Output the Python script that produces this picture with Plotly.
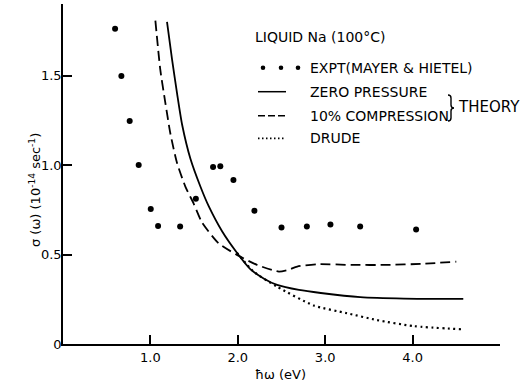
import plotly.graph_objects as go

# ---------------- data ----------------
expt_ev = [0.596, 0.668, 0.763, 0.866, 1.004, 1.088, 1.34, 1.52, 1.717, 1.80, 1.95, 2.19, 2.50, 2.79, 3.06, 3.40, 4.04]
expt_sigma = [1.761, 1.498, 1.246, 1.0, 0.754, 0.66, 0.656, 0.811, 0.989, 0.994, 0.916, 0.744, 0.651, 0.656, 0.668, 0.656, 0.640]

zero_ev = [1.19, 1.248, 1.305, 1.363, 1.458, 1.572, 1.667, 1.82, 1.99, 2.14, 2.3, 2.45, 2.7, 2.95, 3.40, 3.9, 4.58]
zero_sigma = [1.80, 1.589, 1.40, 1.225, 1.035, 0.88, 0.77, 0.63, 0.51, 0.42, 0.365, 0.33, 0.302, 0.285, 0.262, 0.254, 0.252]

comp_ev = [1.057, 1.114, 1.172, 1.229, 1.305, 1.40, 1.495, 1.59, 1.78, 1.99, 2.22, 2.47, 2.58, 2.68, 2.91, 3.3, 3.71, 4.1, 4.5]
comp_sigma = [1.807, 1.53, 1.345, 1.175, 1.011, 0.88, 0.785, 0.68, 0.563, 0.498, 0.442, 0.405, 0.415, 0.433, 0.446, 0.442, 0.442, 0.448, 0.46]

drude_ev = [1.99, 2.18, 2.45, 2.87, 3.25, 3.59, 4.01, 4.57]
drude_sigma = [0.51, 0.405, 0.32, 0.215, 0.172, 0.134, 0.10, 0.082]

x_ticks = [1, 2, 3, 4]
x_ticklabels = ["1.0", "2.0", "3.0", "4.0"]
y_ticks = [0, 0.5, 1.0, 1.5]
y_ticklabels = ["0", "0.5", "1.0", "1.5"]

legend_title = "LIQUID Na (100°C)"
legend_labels = ["EXPT(MAYER &amp; HIETEL)", "ZERO PRESSURE", "10% COMPRESSION", "DRUDE"]
theory_label = "THEORY"

FONT = "DejaVu Sans"
W, H = 531, 385
ML, MR, MT, MB = 63, 31, 4, 41
PW, PH = W - ML - MR, H - MT - MB


def px(xp):
    return (xp - ML) / PW


def py(yp):
    return (H - MB - yp) / PH


fig = go.Figure()
fig.add_trace(go.Scatter(x=zero_ev, y=zero_sigma, mode="lines",
                         line=dict(color="black", width=1.8, shape="spline", smoothing=0.6)))
fig.add_trace(go.Scatter(x=comp_ev, y=comp_sigma, mode="lines",
                         line=dict(color="black", width=1.8, dash="10px,5px", shape="spline", smoothing=0.6)))
fig.add_trace(go.Scatter(x=drude_ev, y=drude_sigma, mode="lines",
                         line=dict(color="black", width=2.2, dash="2px,3.5px", shape="spline", smoothing=0.6)))
fig.add_trace(go.Scatter(x=expt_ev, y=expt_sigma, mode="markers",
                         marker=dict(color="black", size=6)))

shapes = []
annotations = []

# legend title
annotations.append(dict(x=px(253), y=py(37), xref="paper", yref="paper", text=legend_title,
                        showarrow=False, xanchor="left", yanchor="middle",
                        font=dict(family=FONT, size=14, color="black")))
rows_y = [67.7, 91.7, 115.7, 138.3]
for lab, ry in zip(legend_labels, rows_y):
    annotations.append(dict(x=px(308), y=py(ry), xref="paper", yref="paper", text=lab,
                            showarrow=False, xanchor="left", yanchor="middle",
                            font=dict(family=FONT, size=14, color="black")))
# expt sample dots
for dx in [263, 281, 298]:
    shapes.append(dict(type="circle", xref="paper", yref="paper", xsizemode="pixel", ysizemode="pixel",
                       xanchor=px(dx), yanchor=py(rows_y[0]), x0=-2.3, x1=2.3, y0=-2.3, y1=2.3,
                       fillcolor="black", line=dict(width=0)))
# line samples
shapes.append(dict(type="line", xref="paper", yref="paper", x0=px(258), x1=px(286),
                   y0=py(rows_y[1]), y1=py(rows_y[1]), line=dict(color="black", width=1.5)))
shapes.append(dict(type="line", xref="paper", yref="paper", x0=px(258), x1=px(286),
                   y0=py(rows_y[2]), y1=py(rows_y[2]), line=dict(color="black", width=1.6, dash="7px,3px")))
shapes.append(dict(type="line", xref="paper", yref="paper", x0=px(258), x1=px(286),
                   y0=py(rows_y[3]), y1=py(rows_y[3]), line=dict(color="black", width=1.8, dash="1.5px,2.5px")))

# brace
bx, yt, yb = 448, 95, 121
ym = (yt + yb) / 2
pts = [
    f"M {px(bx)},{py(yt)}",
    f"Q {px(bx+3)},{py(yt)} {px(bx+3)},{py(yt+3)}",
    f"L {px(bx+3)},{py(ym-3)}",
    f"Q {px(bx+3)},{py(ym)} {px(bx+6)},{py(ym)}",
    f"Q {px(bx+3)},{py(ym)} {px(bx+3)},{py(ym+3)}",
    f"L {px(bx+3)},{py(yb-3)}",
    f"Q {px(bx+3)},{py(yb)} {px(bx)},{py(yb)}",
]
shapes.append(dict(type="path", xref="paper", yref="paper", path=" ".join(pts),
                   line=dict(color="black", width=1.4)))
annotations.append(dict(x=px(456), y=py(107), xref="paper", yref="paper", text=theory_label,
                        showarrow=False, xanchor="left", yanchor="middle",
                        font=dict(family=FONT, size=15, color="black")))

# axis titles
annotations.append(dict(x=px(280), y=py(375), xref="paper", yref="paper", text="ħω (eV)",
                        showarrow=False, xanchor="center", yanchor="middle",
                        font=dict(family=FONT, size=13, color="black")))
annotations.append(dict(x=px(35), y=py(190), xref="paper", yref="paper",
                        text="σ (ω) (10<sup>-14</sup> sec<sup>-1</sup>)", textangle=-90,
                        showarrow=False, xanchor="center", yanchor="middle",
                        font=dict(family=FONT, size=13, color="black")))

fig.update_layout(
    width=W, height=H,
    margin=dict(l=ML, r=MR, t=MT, b=MB),
    paper_bgcolor="white", plot_bgcolor="white",
    showlegend=False,
    shapes=shapes, annotations=annotations,
    font=dict(family=FONT, size=13, color="black"),
)
fig.update_xaxes(range=[0, 5], showgrid=False, zeroline=False, showline=True, linecolor="black",
                 linewidth=1.5, ticks="inside", ticklen=9, tickwidth=1.5, tickcolor="black",
                 ticklabelstandoff=1,
                 tickvals=x_ticks, ticktext=x_ticklabels, tickfont=dict(family=FONT, size=13, color="black"))
fig.update_yaxes(range=[0, 1.9], showgrid=False, zeroline=False, showline=True, linecolor="black",
                 linewidth=1.5, ticks="inside", ticklen=9, tickwidth=1.5, tickcolor="black",
                 ticklabelstandoff=-3,
                 tickvals=y_ticks, ticktext=y_ticklabels, tickfont=dict(family=FONT, size=13, color="black"))

fig.write_html("out.html")
